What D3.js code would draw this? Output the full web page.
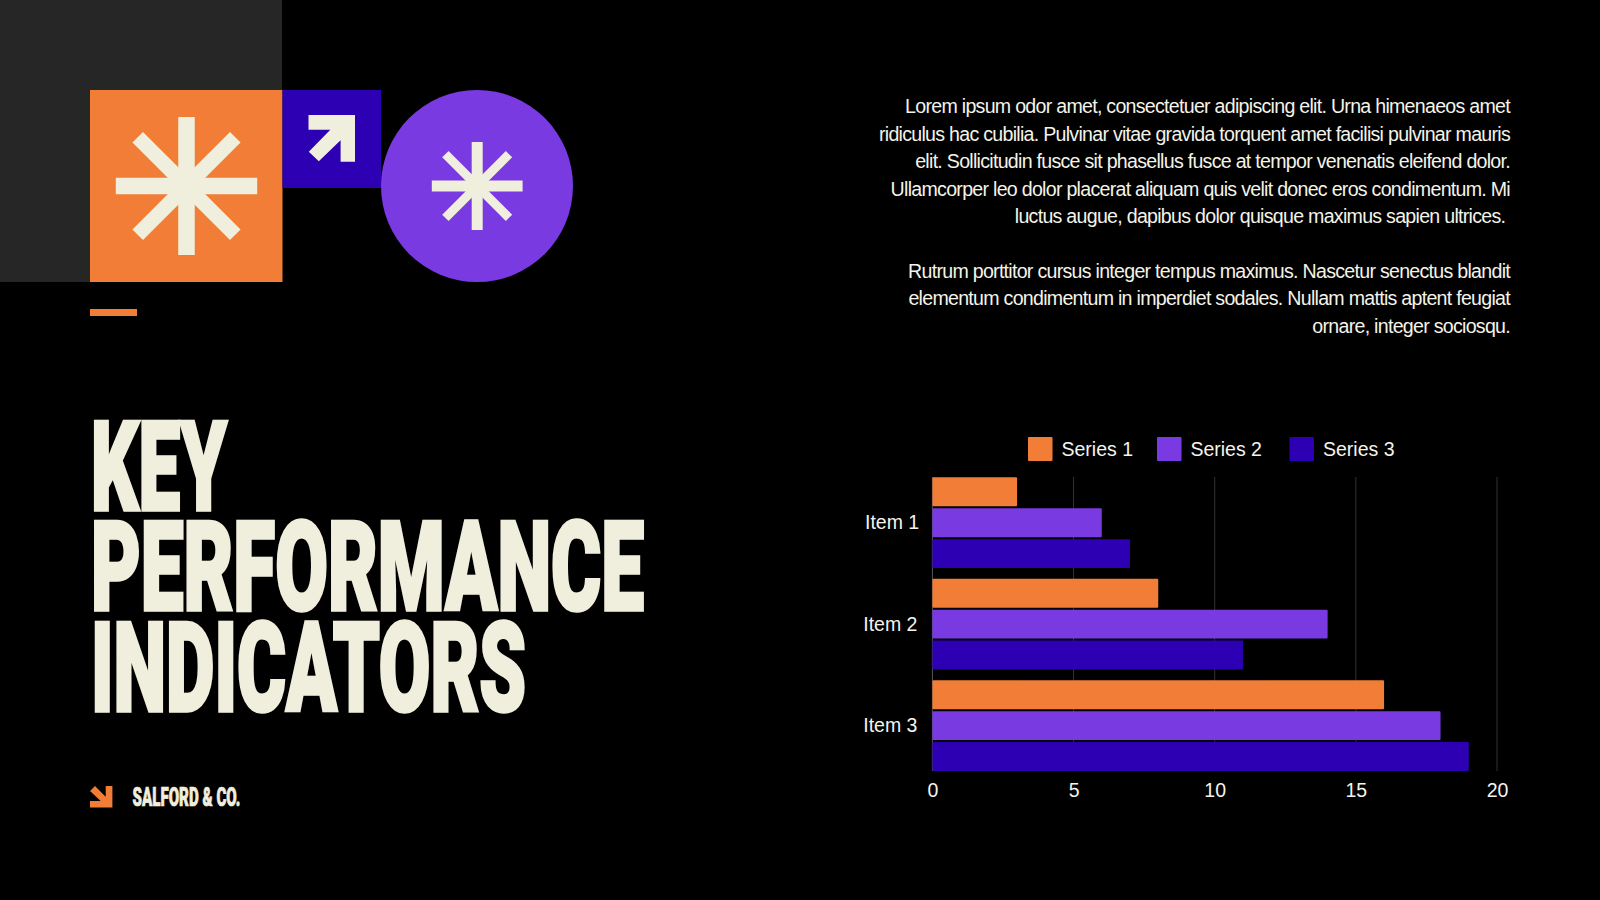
<!DOCTYPE html>
<html>
<head>
<meta charset="utf-8">
<title>Key Performance Indicators</title>
<script src="https://cdn.jsdelivr.net/npm/d3@7"></script>
<style>
  html, body { margin: 0; padding: 0; background: #000; }
  svg { display: block; }
  .body-text { font-family: "Liberation Sans", sans-serif; font-size: 19.6px; letter-spacing: -0.72px; fill: #f4f3e8; white-space: pre; }
  .chart-text { font-family: "Liberation Sans", sans-serif; font-size: 19.5px; fill: #f4f4ee; }
  .heavy { font-family: Roboto, sans-serif; font-weight: 900; fill: #f0eedc; stroke: #f0eedc; vector-effect: non-scaling-stroke; }
</style>
</head>
<body>
<div id="page"></div>
<script>
const items = ['Item 1', 'Item 2', 'Item 3'];
const seriesNames = ['Series 1', 'Series 2', 'Series 3'];
const series1 = [3, 8, 16];
const series2 = [6, 14, 18];
const series3 = [7, 11, 19];
const xTicks = [0, 5, 10, 15, 20];

const bodyLines = [
  'Lorem ipsum odor amet, consectetuer adipiscing elit. Urna himenaeos amet',
  'ridiculus hac cubilia. Pulvinar vitae gravida torquent amet facilisi pulvinar mauris',
  'elit. Sollicitudin fusce sit phasellus fusce at tempor venenatis eleifend dolor.',
  'Ullamcorper leo dolor placerat aliquam quis velit donec eros condimentum. Mi',
  'luctus augue, dapibus dolor quisque maximus sapien ultrices. ',
  '',
  'Rutrum porttitor cursus integer tempus maximus. Nascetur senectus blandit',
  'elementum condimentum in imperdiet sodales. Nullam mattis aptent feugiat',
  'ornare, integer sociosqu.'
];
const titleLines = ['KEY', 'PERFORMANCE', 'INDICATORS'];
const titleWidths = [136, 553, 435];

const orange = '#f17d36', purple = '#7a3ae2', indigo = '#2e00b3', cream = '#f0eedc';
const seriesColors = [orange, purple, indigo];

const svg = d3.select('#page').append('svg')
  .attr('width', 1600)
  .attr('height', 900);

svg.append('rect').attr('width', 1600).attr('height', 900).attr('fill', '#000');

// top left decoration
svg.append('rect').attr('width', 282).attr('height', 282).attr('fill', '#262626');
svg.append('rect').attr('x', 90).attr('y', 90).attr('width', 192.5).attr('height', 192).attr('fill', orange);
svg.append('rect').attr('x', 282.5).attr('y', 90).attr('width', 98.5).attr('height', 98).attr('fill', indigo);
svg.append('circle').attr('cx', 477).attr('cy', 186).attr('r', 96).attr('fill', purple);
svg.append('rect').attr('x', 90).attr('y', 309).attr('width', 47).attr('height', 7).attr('fill', orange);

function asterisk(cx, cy, w, h, diag, thick, thickDiag) {
  let g = svg.append('g').attr('transform', `translate(${cx},${cy})`).attr('fill', cream);
  g.append('rect').attr('x', -thick / 2).attr('y', -h).attr('width', thick).attr('height', h * 2);
  g.append('rect').attr('x', -w).attr('y', -thick / 2).attr('width', w * 2).attr('height', thick);
  [45, -45].forEach(a => {
    g.append('rect')
      .attr('x', -diag).attr('y', -thickDiag / 2)
      .attr('width', diag * 2).attr('height', thickDiag)
      .attr('transform', `rotate(${a})`);
  });
}
asterisk(186.5, 186, 70.7, 69, 69, 16.5, 15);
asterisk(477.2, 186, 45.4, 44, 45, 11, 9);

// arrows
svg.append('path')
  .attr('d', 'M308.5,115H355V161.7H340.6V140.3L318.8,161.3L308.8,151.7L330.3,129.7H308.5Z')
  .attr('fill', cream);
svg.append('path')
  .attr('d', 'M90,791L95,786L105.7,796.7V786H112.4V807.5H90V801H100.7Z')
  .attr('fill', orange);

// no condensed heavy font installed, so squeeze Roboto Black to the measured width
function squeeze(sel, left, baseline, width) {
  sel.each(function(d, i) {
    let natural = this.getComputedTextLength();
    d3.select(this).attr('transform', `translate(${left},${baseline(i)}) scale(${width(i) / natural},1)`);
  });
}

// title
const titleBaselines = [511, 611.7, 712.7];
let title = svg.selectAll('.title').data(titleLines).enter().append('text')
  .attr('class', 'title heavy')
  .attr('font-size', 124)
  .attr('stroke-width', 3)
  .text(d => d);
squeeze(title, 91, i => titleBaselines[i] - 1.5, i => titleWidths[i]);

let brand = svg.append('text')
  .attr('class', 'heavy')
  .attr('font-size', 26)
  .attr('stroke-width', 0.6)
  .text('SALFORD & CO.');
squeeze(brand, 132.5, () => 806, () => 108);

// paragraph, right aligned
svg.selectAll('.body-text').data(bodyLines).enter().append('text')
  .attr('class', 'body-text')
  .attr('x', 1510)
  .attr('y', (d, i) => 113.3 + i * 27.42)
  .attr('text-anchor', 'end')
  .text(d => d);

// chart
let x = d3.scaleLinear().domain([0, 20]).range([932.4, 1497]);
let y = d3.scaleBand().domain(items).range([477.3, 771]).paddingInner(0.105);
let ySeries = d3.scaleBand().domain(seriesNames).range([0, y.bandwidth()]).paddingInner(0.065);

let grid = svg.append('g').attr('transform', 'translate(0,477)');
grid.selectAll('line').data(xTicks).enter().append('line')
  .attr('x1', d => x(d)).attr('x2', d => x(d))
  .attr('y1', 0).attr('y2', 294)
  .attr('stroke', (d, i) => i === 0 ? '#555' : '#333')
  .attr('stroke-width', 1);

const allSeries = [series1, series2, series3];
seriesNames.forEach((name, s) => {
  svg.selectAll('.bar-' + s).data(allSeries[s]).enter().append('rect')
    .attr('class', 'bar-' + s)
    .attr('x', x(0))
    .attr('y', (d, i) => y(items[i]) + ySeries(name))
    .attr('width', d => x(d) - x(0))
    .attr('height', ySeries.bandwidth())
    .attr('rx', 1)
    .attr('fill', seriesColors[s]);
});

let xAxis = svg.append('g')
  .attr('transform', 'translate(0,771)')
  .call(d3.axisBottom(x).tickValues(xTicks).tickSize(0).tickPadding(12));
xAxis.select('.domain').remove();
xAxis.selectAll('text').attr('class', 'chart-text');

let yAxis = svg.append('g')
  .attr('transform', 'translate(932.4,0)')
  .call(d3.axisLeft(y).tickSize(0).tickPadding(14));
yAxis.select('.domain').remove();
yAxis.selectAll('text')
  .attr('class', 'chart-text')
  .attr('dx', (d, i) => i === 0 ? 0.8 : -1)
  .attr('dy', '0.34em');

// legend
const legendSwatchX = [1028, 1157, 1289.5];
const legendTextX = [1061.5, 1190.4, 1323];
seriesNames.forEach((name, s) => {
  svg.append('rect')
    .attr('x', legendSwatchX[s]).attr('y', 437)
    .attr('width', 24.5).attr('height', 24)
    .attr('rx', 1)
    .attr('fill', seriesColors[s]);
  svg.append('text')
    .attr('class', 'chart-text')
    .attr('x', legendTextX[s]).attr('y', 456)
    .text(name);
});
</script>
</body>
</html>
